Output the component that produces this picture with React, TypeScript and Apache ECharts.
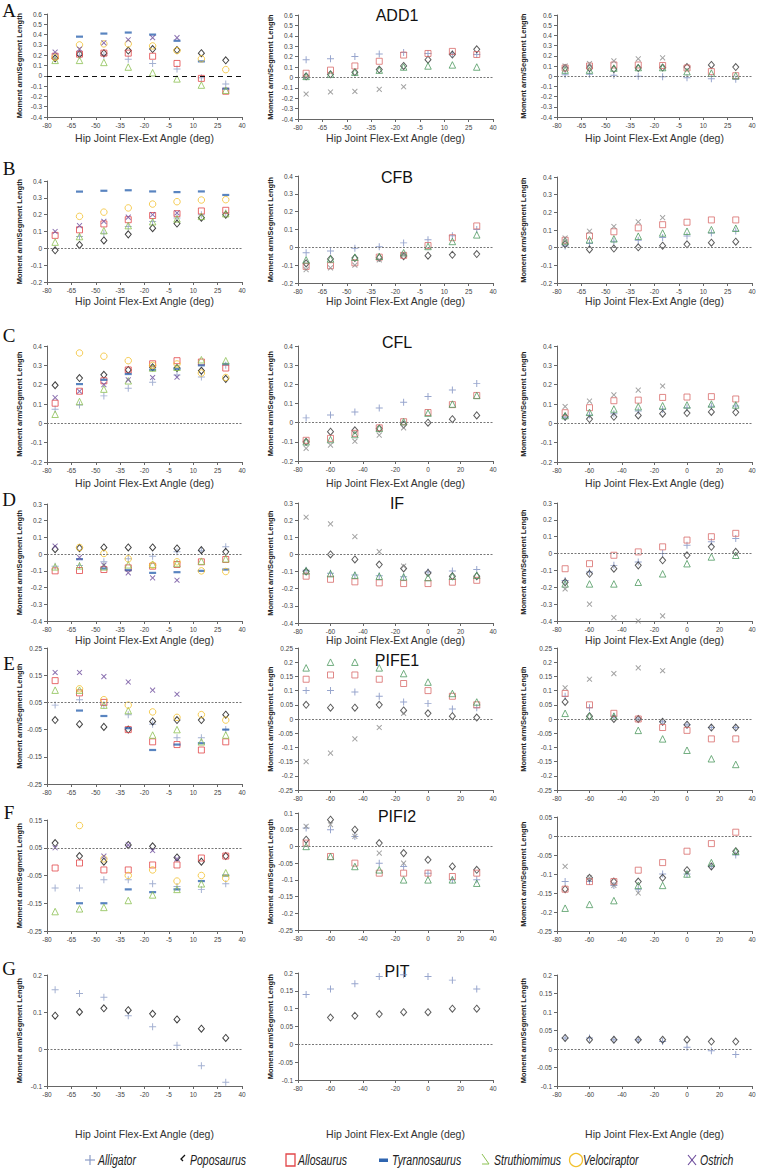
import React, { useEffect, useRef } from 'react';
import * as echarts from 'echarts';

const ANGLES = [-75, -60, -45, -30, -15, 0, 15, 30];
const SPECIES = ['Alligator', 'Poposaurus', 'Allosaurus', 'Tyrannosaurus', 'Struthiomimus', 'Velociraptor', 'Ostrich'];
const MUSCLES = ['ADD1', 'CFB', 'CFL', 'IF', 'PIFE1', 'PIFI2', 'PIT'];
const ROW_LETTERS = ['A', 'B', 'C', 'D', 'E', 'F', 'G'];
const X_TITLE = 'Hip Joint Flex-Ext Angle (deg)';
const Y_TITLE = 'Moment arm/Segment Length';

const N = null;
// Each panel: rows in SPECIES order, values at ANGLES
const ADD1_L = [
  [0.17, 0.2, 0.2, 0.16, 0.12, 0.065, -0.02, -0.08],
  [0.17, 0.21, 0.22, 0.245, 0.26, 0.25, 0.22, 0.15],
  [0.19, 0.21, 0.22, 0.22, 0.19, 0.12, -0.025, -0.15],
  [N, 0.38, 0.41, 0.42, 0.4, 0.34, 0.14, -0.125],
  [0.15, 0.15, 0.13, 0.085, 0.03, -0.03, -0.09, -0.14],
  [0.18, 0.3, 0.31, 0.31, 0.29, 0.245, 0.165, 0.06],
  [0.23, 0.26, 0.32, 0.35, 0.37, 0.37, N, N],
];
const ADD1_M = [
  [0.17, 0.18, 0.2, 0.225, 0.24, 0.23, 0.225, 0.22],
  [0.01, 0.03, 0.05, 0.075, 0.11, 0.17, 0.22, 0.27],
  [0.04, 0.07, 0.11, 0.155, 0.215, 0.23, 0.25, 0.22],
  [],
  [0.01, 0.03, 0.05, 0.07, 0.1, 0.11, 0.12, 0.1],
  [],
  [-0.16, -0.14, -0.135, -0.115, -0.09, N, N, N],
];
const ADD1_R = [
  [0.015, 0.02, 0.01, 0, -0.005, -0.015, -0.025, -0.03],
  [0.08, 0.08, 0.07, 0.08, 0.085, 0.09, 0.11, 0.09],
  [0.08, 0.1, 0.11, 0.11, 0.105, 0.08, 0.045, 0.005],
  [],
  [0.06, 0.06, 0.08, 0.085, 0.085, 0.045, 0.03, 0.005],
  [],
  [0.1, 0.125, 0.15, 0.17, 0.18, N, N, N],
];
const CFB_L = [
  [N, 0.07, 0.09, 0.13, 0.16, 0.18, 0.2, 0.21],
  [-0.012, 0.02, 0.047, 0.083, 0.12, 0.147, 0.182, 0.2],
  [0.077, 0.11, 0.145, 0.17, 0.195, 0.206, 0.222, 0.226],
  [N, 0.337, 0.342, 0.345, 0.338, 0.334, 0.338, 0.317],
  [0.037, 0.07, 0.105, 0.135, 0.158, 0.175, 0.19, 0.206],
  [N, 0.19, 0.215, 0.24, 0.263, 0.277, 0.287, 0.289],
  [0.1, 0.135, 0.16, 0.185, 0.2, 0.21, N, N],
];
const CFB_M = [
  [-0.03, -0.02, -0.005, 0.003, 0.025, 0.043, 0.065, 0.1],
  [-0.09, -0.065, -0.06, -0.058, -0.05, -0.047, -0.042, -0.038],
  [-0.107, -0.103, -0.087, -0.055, -0.045, 0.01, 0.054, 0.12],
  [],
  [-0.07, -0.065, -0.055, -0.05, -0.03, 0.005, 0.033, 0.07],
  [],
  [-0.125, -0.115, -0.1, -0.07, -0.04, N, N, N],
];
const CFB_R = [
  [0.01, 0.023, 0.036, 0.042, 0.057, 0.066, 0.083, 0.095],
  [0.02, -0.01, -0.005, 0.002, 0.011, 0.019, 0.028, 0.034],
  [0.042, 0.066, 0.09, 0.112, 0.13, 0.144, 0.157, 0.157],
  [],
  [0.038, 0.045, 0.05, 0.065, 0.083, 0.093, 0.102, 0.11],
  [],
  [0.055, 0.093, 0.12, 0.146, 0.17, N, N, N],
];
const CFL_L = [
  [0.073, 0.095, 0.142, 0.182, 0.213, 0.25, 0.24, 0.3],
  [0.197, 0.234, 0.251, 0.276, 0.29, 0.286, 0.272, 0.23],
  [0.104, 0.166, 0.22, 0.276, 0.308, 0.324, 0.317, 0.286],
  [N, 0.203, 0.225, 0.255, 0.277, 0.282, 0.3, 0.307],
  [0.047, 0.113, 0.177, 0.22, 0.286, 0.29, 0.329, 0.324],
  [N, 0.364, 0.347, 0.324, 0.3, 0.307, 0.26, 0.237],
  [0.133, 0.166, 0.2, 0.225, 0.237, 0.239, N, N],
];
const CFL_M = [
  [0.025, 0.04, 0.056, 0.077, 0.106, 0.137, 0.17, 0.205],
  [-0.1, -0.047, -0.04, -0.03, -0.01, 0, 0.018, 0.038],
  [-0.092, -0.082, -0.056, -0.027, 0.005, 0.053, 0.094, 0.142],
  [],
  [-0.1, -0.088, -0.062, -0.03, 0.005, 0.05, 0.097, 0.142],
  [],
  [-0.134, -0.117, -0.097, -0.065, -0.027, N, N, N],
];
const CFL_R = [
  [0.031, 0.043, 0.05, 0.064, 0.072, 0.081, 0.088, 0.09],
  [0.034, 0.022, 0.034, 0.041, 0.05, 0.053, 0.059, 0.057],
  [0.055, 0.081, 0.117, 0.12, 0.134, 0.136, 0.138, 0.126],
  [],
  [0.04, 0.057, 0.074, 0.086, 0.091, 0.095, 0.1, 0.095],
  [],
  [0.087, 0.115, 0.147, 0.172, 0.193, N, N, N],
];
const IF_L = [
  [-0.072, -0.068, -0.046, -0.028, -0.012, 0.014, 0.02, 0.044],
  [0.03, 0.036, 0.04, 0.04, 0.04, 0.034, 0.024, 0.014],
  [-0.1, -0.098, -0.092, -0.082, -0.072, -0.062, -0.046, -0.032],
  [N, -0.03, -0.086, -0.096, -0.112, -0.108, -0.1, -0.092],
  [-0.076, -0.07, -0.076, -0.064, -0.06, -0.056, -0.042, -0.028],
  [N, 0.04, 0.004, -0.028, -0.066, -0.046, -0.1, -0.104],
  [0.048, -0.02, -0.066, -0.112, -0.142, -0.156, N, N],
];
const IF_M = [
  [-0.092, -0.11, -0.12, -0.125, -0.13, -0.102, -0.096, -0.088],
  [-0.1, 0, -0.029, -0.059, -0.082, -0.108, -0.127, -0.127],
  [-0.127, -0.145, -0.16, -0.166, -0.17, -0.17, -0.162, -0.151],
  [],
  [-0.096, -0.112, -0.121, -0.127, -0.131, -0.135, -0.127, -0.121],
  [],
  [0.217, 0.178, 0.104, 0.016, -0.068, N, N, N],
];
const IF_R = [
  [-0.16, -0.11, -0.07, -0.05, 0.0, 0.05, 0.07, 0.09],
  [-0.17, -0.12, -0.09, -0.07, -0.04, -0.01, 0.04, 0.01],
  [-0.09, -0.06, -0.01, 0.01, 0.04, 0.08, 0.1, 0.12],
  [],
  [-0.18, -0.18, -0.18, -0.17, -0.12, -0.06, -0.02, -0.01],
  [],
  [-0.21, -0.3, -0.38, -0.4, -0.37, N, N, N],
];
const PIFE1_L = [
  [0.04, 0.06, 0.04, 0.005, -0.03, -0.08, -0.08, -0.05],
  [-0.015, -0.03, -0.04, -0.05, -0.02, -0.015, -0.015, 0.005],
  [0.13, 0.085, 0.05, -0.05, -0.095, -0.105, -0.125, -0.095],
  [N, 0.02, 0.0, -0.045, -0.125, -0.105, -0.1, -0.05],
  [0.095, 0.095, 0.04, 0.02, -0.07, -0.05, -0.095, -0.07],
  [N, 0.1, 0.06, 0.04, 0.015, -0.005, 0.005, -0.015],
  [0.16, 0.16, 0.145, 0.125, 0.095, 0.08, N, N],
];
const PIFE1_M = [
  [0.1, 0.1, 0.095, 0.08, 0.06, 0.055, 0.035, 0.04],
  [0.05, 0.04, 0.04, 0.05, 0.03, 0.02, 0.01, 0.005],
  [0.14, 0.155, 0.155, 0.14, 0.125, 0.1, 0.08, 0.05],
  [],
  [0.18, 0.2, 0.2, 0.18, 0.16, 0.13, 0.09, 0.06],
  [],
  [-0.15, -0.12, -0.07, -0.03, 0.02, N, N, N],
];
const PIFE1_R = [
  [0.08, 0.04, 0.01, 0.0, -0.01, -0.02, -0.03, -0.03],
  [0.06, 0.01, 0.0, 0.0, -0.01, -0.02, -0.03, -0.03],
  [0.09, 0.05, 0.02, 0.0, -0.03, -0.04, -0.07, -0.07],
  [],
  [0.02, 0.01, 0.01, -0.04, -0.07, -0.11, -0.14, -0.16],
  [],
  [0.11, 0.14, 0.16, 0.18, 0.17, N, N, N],
];
const PIFI2_L = [
  [-0.095, -0.095, -0.065, -0.065, -0.08, -0.09, -0.1, -0.08],
  [0.067, 0.02, 0.0, 0.06, 0.055, 0.015, 0.0, 0.02],
  [-0.023, -0.005, -0.03, -0.03, -0.012, -0.012, 0.013, 0.02],
  [N, -0.15, -0.15, -0.1, -0.11, -0.1, -0.07, -0.05],
  [-0.18, -0.17, -0.165, -0.14, -0.12, -0.1, -0.08, -0.04],
  [N, 0.13, 0.01, -0.05, -0.03, -0.07, -0.05, -0.06],
  [0.05, N, 0.02, 0.06, 0.04, 0.01, N, N],
];
const PIFI2_M = [
  [0.055, 0.05, 0.03, -0.05, -0.06, -0.08, -0.1, -0.1],
  [0.02, 0.08, 0.05, 0.01, -0.02, -0.04, -0.06, -0.07],
  [0.01, -0.03, -0.05, -0.08, -0.08, -0.08, -0.09, -0.08],
  [],
  [0.0, -0.03, -0.06, -0.07, -0.1, -0.1, -0.1, -0.11],
  [],
  [0.06, 0.065, 0.03, -0.02, -0.05, N, N, N],
];
const PIFI2_R = [
  [-0.12, -0.12, -0.13, -0.14, -0.1, -0.1, -0.08, -0.05],
  [-0.14, -0.11, -0.12, -0.12, -0.11, -0.09, -0.08, -0.04],
  [-0.14, -0.12, -0.12, -0.09, -0.07, -0.04, -0.02, 0.01],
  [],
  [-0.19, -0.18, -0.17, -0.13, -0.13, -0.1, -0.07, -0.04],
  [],
  [-0.08, -0.11, -0.13, -0.15, N, N, N, N],
];
const PIT_L = [
  [0.16, 0.15, 0.14, 0.09, 0.06, 0.01, -0.045, -0.09],
  [0.09, 0.1, 0.11, 0.105, 0.095, 0.08, 0.055, 0.03],
  [], [], [], [], [],
];
const PIT_M = [
  [0.14, 0.155, 0.17, 0.19, 0.195, 0.19, 0.18, 0.155],
  [N, 0.075, 0.08, 0.085, 0.09, 0.09, 0.1, 0.1],
  [], [], [], [], [],
];
const PIT_R = [
  [0.03, 0.03, 0.025, 0.025, 0.02, 0.005, -0.005, -0.015],
  [0.03, 0.025, 0.025, 0.025, 0.025, 0.025, 0.02, 0.02],
  [], [], [], [], [],
];

const DATA = [
  [ADD1_L, ADD1_M, ADD1_R],
  [CFB_L, CFB_M, CFB_R],
  [CFL_L, CFL_M, CFL_R],
  [IF_L, IF_M, IF_R],
  [PIFE1_L, PIFE1_M, PIFE1_R],
  [PIFI2_L, PIFI2_M, PIFI2_R],
  [PIT_L, PIT_M, PIT_R],
];

// y axis [min, max, interval] per row / column
const Y_AXES = [
  [[-0.4, 0.6, 0.1], [-0.4, 0.6, 0.1], [-0.4, 0.6, 0.1]],
  [[-0.2, 0.4, 0.1], [-0.2, 0.4, 0.1], [-0.2, 0.4, 0.1]],
  [[-0.2, 0.4, 0.1], [-0.2, 0.4, 0.1], [-0.2, 0.4, 0.1]],
  [[-0.4, 0.3, 0.1], [-0.4, 0.3, 0.1], [-0.4, 0.3, 0.1]],
  [[-0.25, 0.25, 0.1], [-0.25, 0.25, 0.05], [-0.25, 0.25, 0.05]],
  [[-0.25, 0.15, 0.1], [-0.25, 0.1, 0.05], [-0.25, 0.05, 0.05]],
  [[-0.1, 0.2, 0.1], [-0.1, 0.2, 0.05], [-0.1, 0.2, 0.05]],
];
const X_INTERVALS = [
  [15, 15, 15], [15, 15, 15], [15, 20, 20], [15, 20, 20], [15, 20, 20], [15, 20, 20], [15, 20, 20],
];
const REF_LINES = [
  [0, 0, 0], [0, 0, 0], [0, 0, 0], [0, 0, 0], [0.05, 0, 0], [0.05, 0, 0], [0, 0, 0],
];

// layout (pixels)
const COL_LEFT = [47, 298, 557];
const PLOT_W = 195;
const LAYOUT = [
  [[14, 103], [15, 104], [15, 102]],
  [[181, 101], [176, 107], [177, 106]],
  [[346, 116], [346, 115], [346, 116]],
  [[504, 117], [503, 120], [503, 118]],
  [[648, 136], [648, 142], [648, 142]],
  [[820, 111], [813, 117], [817, 114]],
  [[975, 111], [973, 107], [975, 111]],
];
// centre y of the x-axis title per row (null: not visible)
const X_TITLE_Y = [138, 301, 483, 640, null, null, 1134];
const Y_NAME_GAP = [24, 24, 30];

const PLUS = 'path://M4.3,0H5.7V4.3H10V5.7H5.7V10H4.3V5.7H0V4.3H4.3Z';
const COLORS_L = ['#8c9cc6', '#111111', '#e2474a', '#2f65b0', '#8cc152', '#f2c12e', '#6d4c9c'];
const COLORS_MR = ['#7d8fc0', '#333333', '#d86c6a', '#2f65b0', '#4f9a60', '#f2c12e', '#8a8a8a'];
const SYMBOLS: any[] = [
  { symbol: PLUS, size: 7, hollow: false },
  { symbol: 'diamond', size: [6, 7], hollow: true },
  { symbol: 'rect', size: 6, hollow: true },
  { symbol: 'rect', size: [7, 2.2], hollow: false },
  { symbol: 'triangle', size: 6.5, hollow: true },
  { symbol: 'circle', size: 6.5, hollow: true },
  { symbol: PLUS, size: 7, hollow: false, rotate: 45 },
];

const SANS = 'Liberation Sans, Arial, sans-serif';

function fmt(v: number) {
  const n = Number(v.toFixed(3));
  return n === 0 ? '0' : String(n);
}

function buildOption() {
  const grid: any[] = [];
  const xAxis: any[] = [];
  const yAxis: any[] = [];
  const series: any[] = [];
  const graphic: any[] = [];

  for (let r = 0; r < 7; r++) {
    for (let c = 0; c < 3; c++) {
      const p = r * 3 + c;
      const [top, height] = LAYOUT[r][c];
      grid.push({ left: COL_LEFT[c], top, width: PLOT_W, height, containLabel: false });
      xAxis.push({
        type: 'value', gridIndex: p, min: -80, max: 40, interval: X_INTERVALS[r][c],
        axisLine: { show: true, onZero: false, lineStyle: { color: '#666', width: 1 } },
        axisTick: { show: true, length: 3, lineStyle: { color: '#666' } },
        axisLabel: { fontSize: 6.5, color: '#444', margin: 5, fontFamily: SANS, formatter: (v: number) => fmt(v) },
        splitLine: { show: false },
      });
      const [ymin, ymax, yint] = Y_AXES[r][c];
      yAxis.push({
        type: 'value', gridIndex: p, min: ymin, max: ymax, interval: yint,
        axisLine: { show: true, onZero: false, lineStyle: { color: '#666', width: 1 } },
        axisTick: { show: true, length: 3, lineStyle: { color: '#666' } },
        axisLabel: { fontSize: 6.5, color: '#444', margin: 5, fontFamily: SANS, formatter: (v: number) => fmt(v) },
        splitLine: { show: false },
        name: Y_TITLE, nameLocation: 'middle', nameGap: Y_NAME_GAP[c], nameRotate: 90,
        nameTextStyle: { fontSize: 7.5, fontWeight: 'bold', color: '#222', fontFamily: SANS },
      });
      const ty = X_TITLE_Y[r];
      if (ty !== null) {
        graphic.push({
          type: 'text', x: COL_LEFT[c] + PLOT_W / 2, y: ty, z: 50,
          style: { text: X_TITLE, font: '10.5px "Liberation Sans", Arial, sans-serif', fill: '#333', align: 'center', verticalAlign: 'middle' },
        });
      }
      const colors = c === 0 ? COLORS_L : COLORS_MR;
      const panel = DATA[r][c];
      let first = true;
      panel.forEach((row: (number | null)[], s: number) => {
        const pts = ANGLES.map((a, i) => [a, row[i]]).filter((d) => d[1] !== null && d[1] !== undefined);
        if (!pts.length) return;
        const sym = SYMBOLS[s];
        const col = colors[s];
        const ser: any = {
          type: 'scatter', name: SPECIES[s], xAxisIndex: p, yAxisIndex: p, data: pts,
          symbol: sym.symbol, symbolSize: sym.size, symbolRotate: sym.rotate || 0,
          itemStyle: sym.hollow
            ? { color: 'rgba(255,255,255,0)', borderColor: col, borderWidth: 1 }
            : { color: col },
          emphasis: { disabled: true },
        };
        if (first) {
          const dashed = r === 0 && c === 0;
          ser.markLine = {
            silent: true, symbol: 'none', animation: false,
            label: { show: false },
            lineStyle: dashed
              ? { type: [5, 4], color: '#111', width: 1.2 }
              : { type: [2, 1.5], color: '#777', width: 1 },
            data: [{ yAxis: REF_LINES[r][c] }],
          };
          first = false;
        }
        series.push(ser);
      });
    }
  }

  const LETTER_Y = [10, 168, 335, 499, 663, 812, 968];
  ROW_LETTERS.forEach((L, r) => {
    graphic.push({ type: 'text', x: 9, y: LETTER_Y[r], style: { text: L, font: '19px "Liberation Serif", "Times New Roman", serif', fill: '#111', align: 'center', verticalAlign: 'middle' } });
  });
  const TITLE_Y = [15, 177, 342, 503, 660, 816, 971];
  MUSCLES.forEach((m, r) => {
    graphic.push({ type: 'text', x: 397, y: TITLE_Y[r], style: { text: m, font: '16px "Liberation Sans", Arial, sans-serif', fill: '#111', align: 'center', verticalAlign: 'middle' } });
  });

  // legend
  const LY = 1160;
  const LEG_ICON_X = [90, 182, 290, 384, 486, 575, 692];
  const legFont = 'italic 14px "Liberation Sans", Arial, sans-serif';
  SPECIES.forEach((sp, s) => {
    const ix = LEG_ICON_X[s];
    const col = COLORS_L[s];
    if (s === 0) {
      graphic.push({ type: 'line', shape: { x1: ix - 5, y1: LY, x2: ix + 5, y2: LY }, style: { stroke: col, lineWidth: 1.2 } });
      graphic.push({ type: 'line', shape: { x1: ix, y1: LY - 5, x2: ix, y2: LY + 5 }, style: { stroke: col, lineWidth: 1.2 } });
    } else if (s === 1) {
      graphic.push({ type: 'polyline', shape: { points: [[ix + 3, LY - 5], [ix - 1, LY - 1], [ix + 1, LY + 1]] }, style: { stroke: col, lineWidth: 1.3, fill: 'none' } });
    } else if (s === 2) {
      graphic.push({ type: 'rect', shape: { x: ix - 4, y: LY - 6, width: 9, height: 12 }, style: { stroke: col, lineWidth: 1.3, fill: 'none' } });
    } else if (s === 3) {
      graphic.push({ type: 'rect', shape: { x: ix - 5, y: LY - 1.5, width: 9, height: 3.5 }, style: { fill: col } });
    } else if (s === 4) {
      graphic.push({ type: 'polyline', shape: { points: [[ix - 4, LY - 6], [ix + 3, LY + 4], [ix - 4, LY + 4]] }, style: { stroke: col, lineWidth: 1, fill: 'none' } });
    } else if (s === 5) {
      graphic.push({ type: 'circle', shape: { cx: ix + 1, cy: LY, r: 6.5 }, style: { stroke: col, lineWidth: 1.3, fill: 'none' } });
    } else {
      graphic.push({ type: 'line', shape: { x1: ix - 4, y1: LY - 5, x2: ix + 4, y2: LY + 5 }, style: { stroke: col, lineWidth: 1.2 } });
      graphic.push({ type: 'line', shape: { x1: ix - 4, y1: LY + 5, x2: ix + 4, y2: LY - 5 }, style: { stroke: col, lineWidth: 1.2 } });
    }
    graphic.push({ type: 'text', x: ix + 8, y: LY, scaleX: 0.75, style: { text: sp, font: legFont, fill: '#222', align: 'left', verticalAlign: 'middle' } });
  });

  return { animation: false, backgroundColor: '#fff', grid, xAxis, yAxis, series, graphic };
}

export default function App() {
  const ref = useRef<HTMLDivElement>(null);
  useEffect(() => {
    const chart = echarts.init(ref.current!, null, { renderer: 'svg' });
    chart.setOption(buildOption());
    return () => chart.dispose();
  }, []);
  return <div ref={ref} style={{ position: 'absolute', left: 0, top: 0, width: 770, height: 1174, background: '#fff' }} />;
}
